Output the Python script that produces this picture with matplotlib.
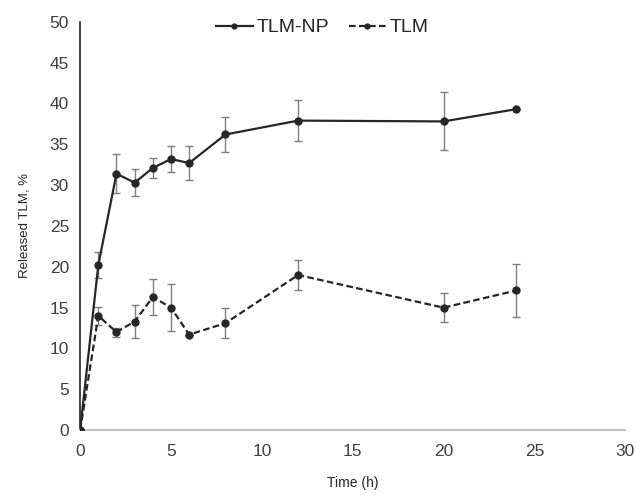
import matplotlib
matplotlib.use("Agg")
import matplotlib.pyplot as plt
from matplotlib.lines import Line2D

plt.rcParams['font.family'] = ['Liberation Sans', 'DejaVu Sans']

time_h = [0, 1, 2, 3, 4, 5, 6, 8, 12, 20, 24]
tlm_np = [0, 20.2, 31.4, 30.3, 32.1, 33.2, 32.7, 36.2, 37.9, 37.8, 39.3]
tlm_np_err = [0, 1.6, 2.4, 1.65, 1.25, 1.65, 2.1, 2.1, 2.55, 3.55, 0]
tlm = [0, 14.0, 12.0, 13.3, 16.3, 15.0, 11.7, 13.1, 19.0, 15.0, 17.1]
tlm_err = [0, 1.1, 0.55, 2.0, 2.15, 2.9, 0, 1.8, 1.8, 1.75, 3.2]

x_ticks = [0, 5, 10, 15, 20, 25, 30]
y_ticks = [0, 5, 10, 15, 20, 25, 30, 35, 40, 45, 50]

fig = plt.figure(figsize=(6.36, 4.95), dpi=100)
ax = fig.add_axes([0.126, 0.131, 0.857, 0.825])

line_col = '#262626'
err_col = '#7f7f7f'
dash = (0, (3, 1.5))
ax.errorbar(time_h, tlm_np, yerr=tlm_np_err, color=line_col, lw=1.6, marker='o', ms=5,
            ecolor=err_col, elinewidth=1.0, capsize=3, capthick=1.0, zorder=3)
ax.errorbar(time_h, tlm, yerr=tlm_err, color=line_col, lw=1.6, ls=dash, marker='o', ms=5,
            ecolor=err_col, elinewidth=1.0, capsize=3, capthick=1.0, zorder=3)

ax.set_xlim(0, 30)
ax.set_ylim(0, 50)
ax.set_xticks(x_ticks)
ax.set_yticks(y_ticks)
ax.tick_params(length=0, labelsize=12.5, colors='#404040')
ax.tick_params(axis='x', pad=10)
ax.tick_params(axis='y', pad=8)
for s in ['top', 'right']:
    ax.spines[s].set_visible(False)
ax.spines['left'].set_color('#262626')
ax.spines['left'].set_linewidth(1.2)
ax.spines['bottom'].set_color('#bfbfbf')
ax.spines['bottom'].set_linewidth(1.5)

ax.set_xlabel('Time (h)', fontsize=10, color='#262626', labelpad=12)
ax.set_ylabel('Released TLM, %', fontsize=9.5, color='#262626', labelpad=14)

handles = [Line2D([], [], color=line_col, lw=1.6, marker='o', ms=3.5),
           Line2D([], [], color=line_col, lw=1.6, ls=dash, marker='o', ms=3.5)]
ax.legend(handles, ['TLM-NP', 'TLM'], loc='upper center', bbox_to_anchor=(0.444, 1.05), ncol=2,
          frameon=False, fontsize=14, handlelength=1.9, columnspacing=1.0, handletextpad=0.2,
          labelcolor='#262626')

fig.savefig('out.png', dpi=100)
